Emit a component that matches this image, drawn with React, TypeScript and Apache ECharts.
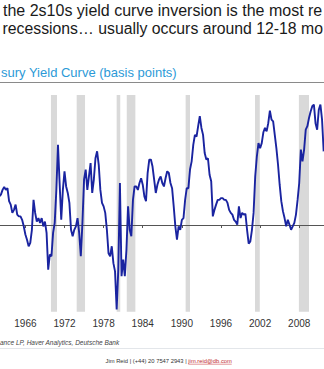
import React, { useEffect, useRef } from "react";
import * as echarts from "echarts";

// ---- Data (2s10s US Treasury curve, basis points, quarterly readings) ----
const startYear = 1962;
const stepYears = 0.25;
const spreadBp = [
  // 1962 - 1974.5
  66, 70, 81, 88, 81, 85, 55, 47, 28, 35, 47, 24, 20, 20, 12, -3, -22, -34, -49, -41,
  -11, 58, 28, 8, 16, 5, 16, -3, 8, -18, -103, -68, -72, -18, 5, 81, 185, 97, 12, 81,
  124, 89, 74, 51, -11, -26, -11, -3, 16, -18, -72,
  // 1974.75 - 1986.75
  5, 105, 128, 81, 112, 143, 74, 105, 154, 170, 139, 81, 51, 43, 28, -11, -65, -72, -49,
  -88, -107, -195, -103, 97, -118, -80, -118, -57, 43, -11, -26, 58, 89, 89, 81, 97, 108,
  93, 66, 55, 120, 151, 151, 135, 105, 74, 93, 105, 112,
  // 1987 - 1999
  97, 89, 108, 124, 120, 97, 85, 43, -3, -34, -3, -11, 12, 16, 58, 85, 85, 128, 147, 185,
  208, 204, 228, 251, 224, 208, 166, 151, 154, 116, 101, 20, 35, 47, 58, 58, 62, 62, 58,
  58, 51, 35, 28, 24, 12, 8, 1, 43, 16,
  // 1999.25 - 2011.75
  28, 24, 26, -11, -43, -38, -11, 28, 112, 158, 189, 177, 189, 214, 224, 216, 235, 264,
  243, 239, 208, 177, 139, 93, 55, 32, 16, -3, 12, 1, -11, -3, 5, 24, 58, 97, 174, 147,
  174, 220, 228, 247, 262, 274, 278, 235, 220, 266, 278, 243, 170,
];
const recessionStarts = [1969.92, 1973.87, 1980.0, 1981.55, 1990.58, 2001.22, 2007.95];
const recessionEnds = [1970.85, 1975.15, 1980.55, 1982.87, 1991.25, 2001.95, 2009.5];
const xTickYears = [1966, 1972, 1978, 1984, 1990, 1996, 2002, 2008];

const titleLine1 = "the 2s10s yield curve inversion is the most re";
const titleLine2 = "recessions… usually occurs around 12-18 mo";
const subtitle = "sury Yield Curve (basis points)";
const sourceText = "ance LP, Haver Analytics, Deutsche Bank";
const footerText = "Jim Reid | (+44) 20 7547 2943 | ";
const footerEmail = "jim.reid@db.com";

const FONT = '"Liberation Sans", Arial, Helvetica, sans-serif';

const X_MIN = 1962.107;
const X_MAX = 2011.8;

function buildOption(): echarts.EChartsCoreOption {
  const lineData = spreadBp.map((v, i) => [startYear + i * stepYears, v]);
  const areas = recessionStarts.map((s, i) => [{ xAxis: s }, { xAxis: recessionEnds[i] }]);
  return {
    animation: false,
    backgroundColor: "#ffffff",
    grid: { left: 0, right: 0, top: 95, bottom: 57.3, containLabel: false },
    xAxis: [
      {
        type: "value",
        min: X_MIN,
        max: X_MAX,
        position: "bottom",
        z: 2,
        axisLine: { show: true, onZero: true, lineStyle: { color: "#555555", width: 1 } },
        axisTick: {
          show: true,
          customValues: xTickYears,
          length: 3,
          lineStyle: { color: "#555555", width: 1 },
        },
        axisLabel: { show: false, customValues: xTickYears },
        splitLine: { show: false },
      },
      {
        type: "value",
        min: X_MIN,
        max: X_MAX,
        position: "bottom",
        axisLine: { show: false, onZero: false },
        axisTick: { show: false },
        axisLabel: {
          show: true,
          customValues: xTickYears,
          formatter: (v: number) => String(Math.round(v)),
          fontSize: 10,
          fontFamily: FONT,
          color: "#333333",
          margin: 7,
        },
        splitLine: { show: false },
      },
    ],
    yAxis: {
      type: "value",
      min: -200,
      max: 300,
      show: false,
      splitLine: { show: false },
    },
    series: [
      {
        type: "line",
        name: "Recessions",
        xAxisIndex: 0,
        data: [],
        z: 1,
        silent: true,
        markArea: {
          silent: true,
          itemStyle: { color: "#d9d9d9" },
          data: areas,
        },
      },
      {
        type: "line",
        name: "2s10s",
        xAxisIndex: 0,
        data: lineData,
        z: 3,
        showSymbol: false,
        symbol: "none",
        lineStyle: { color: "#1a24a0", width: 1.9 },
      },
    ],
    graphic: [
      {
        type: "text",
        x: 3,
        y: 2,
        style: {
          text: titleLine1,
          fontSize: 16,
          fontFamily: FONT,
          fill: "#1a1a1a",
          align: "left",
          verticalAlign: "top",
        },
      },
      {
        type: "text",
        x: 2.5,
        y: 20.7,
        style: {
          text: titleLine2,
          fontSize: 15.8,
          fontFamily: FONT,
          fill: "#1a1a1a",
          align: "left",
          verticalAlign: "top",
        },
      },
      {
        type: "text",
        x: 1,
        y: 66,
        style: {
          text: subtitle,
          fontSize: 13,
          fontFamily: FONT,
          fill: "#2c9ad7",
          align: "left",
          verticalAlign: "top",
        },
      },
      {
        type: "line",
        shape: { x1: 0, y1: 82.5, x2: 324, y2: 82.5 },
        style: { stroke: "#8a8a8a", lineWidth: 1 },
      },
      {
        type: "text",
        x: 0,
        y: 342,
        style: {
          text: sourceText,
          fontSize: 6.5,
          fontStyle: "italic",
          fontFamily: FONT,
          fill: "#444444",
          align: "left",
          verticalAlign: "middle",
        },
      },
      {
        type: "line",
        shape: { x1: 0, y1: 348.5, x2: 324, y2: 348.5 },
        style: { stroke: "#e3e6ea", lineWidth: 1 },
      },
      {
        type: "text",
        x: 188.3,
        y: 361,
        style: {
          text: footerText,
          fontSize: 5.8,
          fontFamily: FONT,
          fill: "#333333",
          align: "right",
          verticalAlign: "middle",
        },
      },
      {
        type: "text",
        x: 188.3,
        y: 361,
        style: {
          text: footerEmail,
          fontSize: 5.8,
          fontFamily: FONT,
          fill: "#c0282d",
          align: "left",
          verticalAlign: "middle",
        },
      },
      {
        type: "line",
        shape: { x1: 188.3, y1: 364.2, x2: 231.7, y2: 364.2 },
        style: { stroke: "#c0282d", lineWidth: 0.5 },
      },
    ],
  };
}

export default function App() {
  const ref = useRef<HTMLDivElement>(null);
  useEffect(() => {
    document.body.style.margin = "0";
    if (!ref.current) return;
    const chart = echarts.init(ref.current, null, { renderer: "svg" });
    chart.setOption(buildOption());
    return () => {
      chart.dispose();
    };
  }, []);
  return (
    <div
      ref={ref}
      style={{ position: "absolute", left: 0, top: 0, width: 324, height: 369, background: "#fff" }}
    />
  );
}
